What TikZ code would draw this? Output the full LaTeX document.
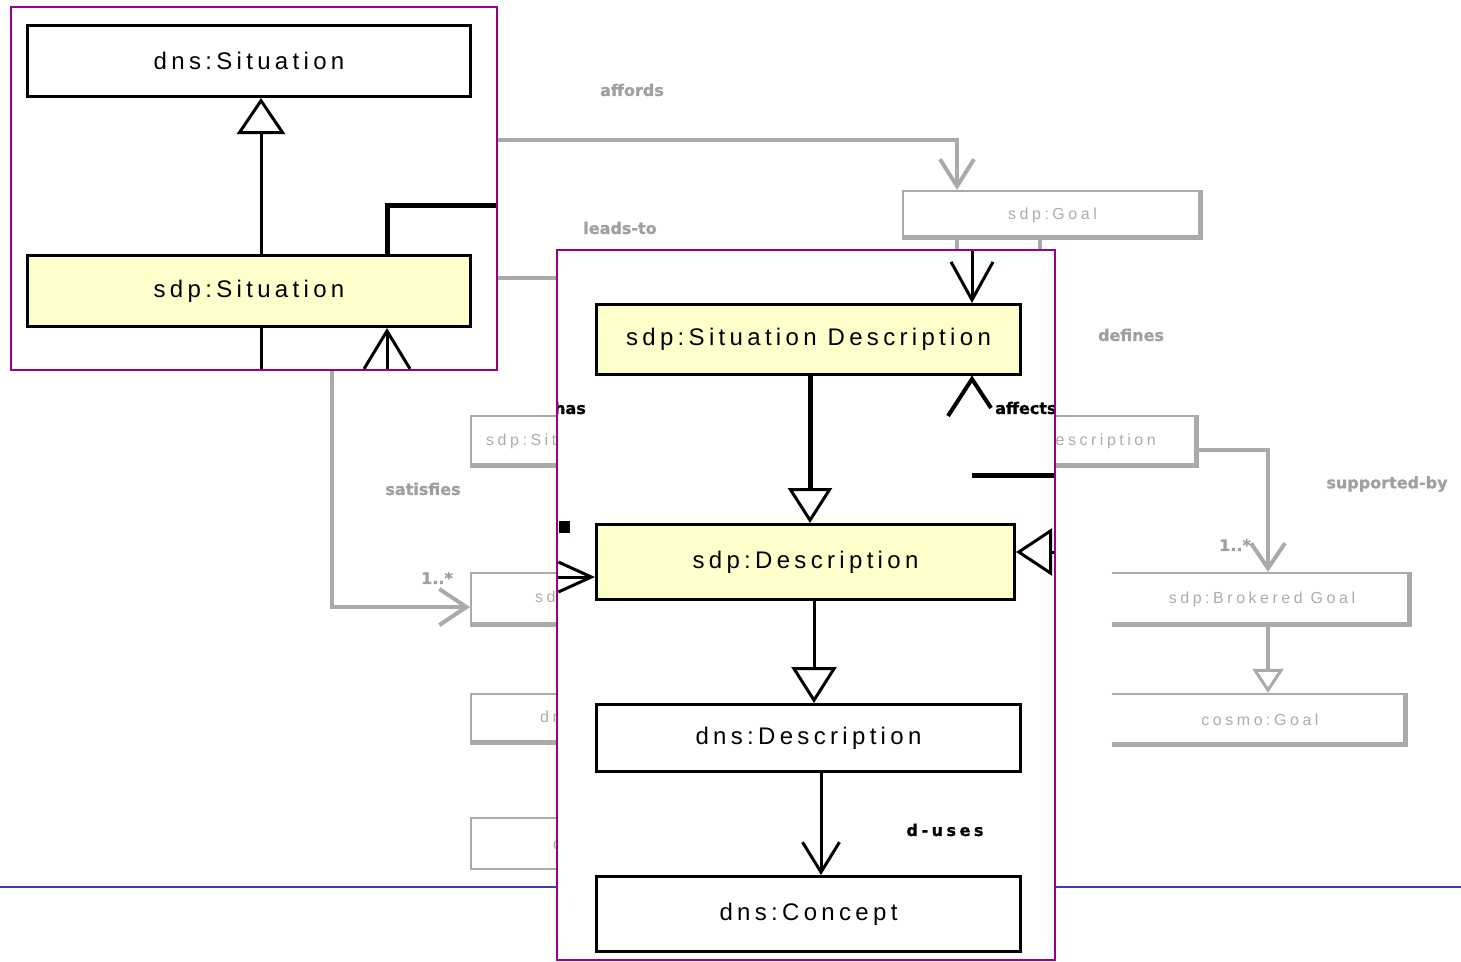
\documentclass[tikz,border=0pt]{standalone}
\usepackage{fontspec}
\usetikzlibrary{arrows.meta,calc}
\newfontfamily\classfont[LetterSpace=18]{Liberation Sans}
\newfontfamily\ghostfont[LetterSpace=22]{Liberation Sans}
\newfontfamily\rolefont[FakeBold=1.2]{DejaVu Sans Bold}
\definecolor{panelpurple}{RGB}{153,0,136}
\definecolor{classyellow}{RGB}{255,255,204}
\definecolor{ghost}{RGB}{170,170,170}
\definecolor{ghosttext}{RGB}{172,172,172}
\definecolor{ghostlabel}{RGB}{160,160,160}
\definecolor{rulerblue}{RGB}{60,60,170}
% thick bottom and right edge of a faded class box
\newcommand\ghostshadow[1]{%
  \draw[ghost,line width=5pt] ($(#1.south west)+(0,-2.5)$) -- ($(#1.south east)+(-2.5,-2.5)$) -- ($(#1.north east)+(-2.5,0)$);}
\begin{document}
\begin{tikzpicture}[x=1pt,y=-1pt,
  panel/.style={draw=panelpurple,fill=white,line width=1.5pt},
  cls/.style={rectangle,draw=black,line width=3pt,inner sep=0pt,
    font=\classfont\fontsize{24}{28}\selectfont},
  ycls/.style={cls,fill=classyellow},
  link/.style={draw=black,line width=3pt},
  boldlink/.style={draw=black,line width=5pt},
  rolelbl/.style={font=\rolefont\fontsize{16}{18}\selectfont,inner sep=0pt},
  gcls/.style={rectangle,draw=ghost,line width=2pt,inner sep=0pt},
  gtext/.style={text=ghosttext,inner sep=0pt,font=\ghostfont\fontsize{16}{19}\selectfont},
  glink/.style={draw=ghost,line width=4pt},
  glbl/.style={rolelbl,text=ghostlabel},
]
\useasboundingbox (0,0) rectangle (1461,961);

% ---------- faded background diagram ----------
\draw[rulerblue,line width=2pt] (0,887) -- (1461,887);

\node[gcls,minimum width=299pt,minimum height=48pt,gtext] (goal) at (1052.5,215) {\raisebox{-3pt}{sdp:Goal}};
\ghostshadow{goal}

\node[gcls,minimum width=328pt,minimum height=51pt] (g1) at (635,441.5) {};
\ghostshadow{g1}
\node[gtext,anchor=west] (g1t) at (486,441) {sdp:Situation};
\node[gcls,minimum width=328pt,minimum height=53pt] (g2) at (635,599.5) {};
\ghostshadow{g2}
\node[gtext,anchor=west] (g2t) at (535,598) {sdp:Description};
\node[gcls,minimum width=328pt,minimum height=50pt] (g3) at (635,719) {};
\ghostshadow{g3}
\node[gtext,anchor=west] (g3t) at (540,718) {dns:Description};
\node[gcls,minimum width=328pt,minimum height=51pt] (g4) at (635,843.5) {};
\node[gtext,anchor=west] (g4t) at (553,845) {dns:Concept};

\node[gcls,minimum width=267pt,minimum height=51pt] (gsd) at (1064.5,441.5) {};
\ghostshadow{gsd}
\node[gtext,anchor=east] (gsdt) at (1156,441) {sdp:Situation Description};

\node[minimum width=300pt,minimum height=55pt,inner sep=0pt,gtext] (bgoal) at (1262,599.5) {sdp:Brokered Goal};
\draw[ghost,line width=2pt] ($(bgoal.north west)+(0,1)$) -- ($(bgoal.north east)+(0,1)$);
\ghostshadow{bgoal}
\node[minimum width=296pt,minimum height=54pt,inner sep=0pt,gtext] (cgoal) at (1260,720) {cosmo:Goal};
\draw[ghost,line width=2pt] ($(cgoal.north west)+(0,1)$) -- ($(cgoal.north east)+(0,1)$);
\ghostshadow{cgoal}

\coordinate (lp-aff) at (497,140);
\draw[glink,-{Straight Barb[length=27pt,width=34pt]}] (lp-aff) -| ($(goal.north)+(-95.5,0)$);
\draw[glink] ($(goal.south)+(-95.5,0)$) -- ++(0,20);
\draw[glink] ($(goal.south)+(-12.5,0)$) -- ++(0,20);
\coordinate (lp-lead) at (497,278);
\coordinate (mp-lead) at (560,278);
\draw[glink] (lp-lead) -- (mp-lead);
\coordinate (lp-sat) at (332,370);
\draw[glink,-{Straight Barb[length=27pt,width=36pt]}] (lp-sat) |- ($(g2.west)+(0,7.5)$);
\draw[glink,-{Straight Barb[length=25pt,width=34pt]}] ($(gsd.east)+(0,8.5)$) -| ($(bgoal.north)+(6,0)$);
\draw[glink,-{Triangle[fill=white,line width=3pt,length=24pt,width=31pt]}] ($(bgoal.south)+(6,0)$) -- ($(cgoal.north)+(8,0)$);

\node[glbl] (l-aff) at (632,90) {affords};
\node[glbl] (l-lead) at (620,228) {leads-to};
\node[glbl] (l-def) at (1131,335) {defines};
\node[glbl] (l-sat) at (423,489) {satisfies};
\node[glbl] (l-sup) at (1387,484) {supported-by};
\node[glbl] (m-sat) at (437,578) {1..*};
\node[glbl] (m-sup) at (1235,545) {1..*};

% ---------- situation panel ----------
\draw[panel] (11,7) rectangle (497,370);
\node[cls,minimum width=443pt,minimum height=71pt] (dsit) at (249,61) {dns:Situation};
\node[ycls,minimum width=443pt,minimum height=71pt] (ssit) at (249,291) {sdp:Situation};
\draw[link,-{Triangle[fill=white,line width=3pt,length=36pt,width=48pt]}] ($(ssit.north)+(12,0)$) -- ($(dsit.south)+(12,0)$);
\coordinate (lp-east) at (496,205);
\draw[boldlink] ($(ssit.north)+(138,0)$) |- (lp-east);
\coordinate (lp-south) at (261,369);
\draw[link] ($(ssit.south)+(12,0)$) -- (lp-south);
\coordinate (lp-in) at (387,369);
\draw[link,-{Straight Barb[length=38pt,width=46pt]}] (lp-in) -- ($(ssit.south)+(138,0)$);

% ---------- description panel ----------
\draw[panel] (557,250) rectangle (1055,960);
\begin{scope}
\clip (558,251) rectangle (1054,959);
\node[ycls,minimum width=424pt,minimum height=70pt] (sdesc) at (808.5,339.5) {sdp:Situation Description};
\node[ycls,minimum width=418pt,minimum height=75pt] (desc) at (805.5,562) {sdp:Description};
\node[cls,minimum width=424pt,minimum height=67pt] (ddesc) at (808.5,738) {dns:Description};
\node[cls,minimum width=424pt,minimum height=75pt] (conc) at (808.5,914) {dns:Concept};

\coordinate (mp-top) at (972,251);
\draw[link,-{Straight Barb[length=38pt,width=42pt]}] (mp-top) -- ($(sdesc.north)+(163.5,0)$);
\draw[black,line width=4pt] (948,416) -- ($(sdesc.south)+(163.5,3)$) -- (991,408);
\node[rolelbl,anchor=west] (affects) at (995,408) {affects};
\coordinate (mp-bar) at (1056,475);
\draw[boldlink] (972,475) -- (mp-bar);
\draw[boldlink,-{Triangle[fill=white,line width=3pt,length=35pt,width=44pt]}] ($(sdesc.south)+(1.5,0)$) -- ($(desc.north)+(4.5,0)$);
\coordinate (mp-west) at (557,577);
\draw[link,-{Straight Barb[length=33pt,width=30pt]}] (mp-west) -- ($(desc.west)+(0,15)$);
\coordinate (mp-east) at (1056,552);
\draw[link,-{Triangle[fill=white,line width=3pt,length=36pt,width=47pt]}] (mp-east) -- ($(desc.east)+(0,-10)$);
\draw[link,-{Triangle[fill=white,line width=3pt,length=36pt,width=45pt]}] ($(desc.south)+(8.5,0)$) -- ($(ddesc.north)+(5.5,0)$);
\draw[link,-{Straight Barb[length=30pt,width=37pt]}] ($(ddesc.south)+(12.5,0)$) -- ($(conc.north)+(12.5,0)$);
\node[rolelbl] (uses) at (945,830) {\addfontfeature{LetterSpace=22}d-uses};
\node[rolelbl,anchor=east] (has) at (586,408) {has};
\fill[black] (559,521) rectangle (570,533);
\end{scope}
\end{tikzpicture}
\end{document}
